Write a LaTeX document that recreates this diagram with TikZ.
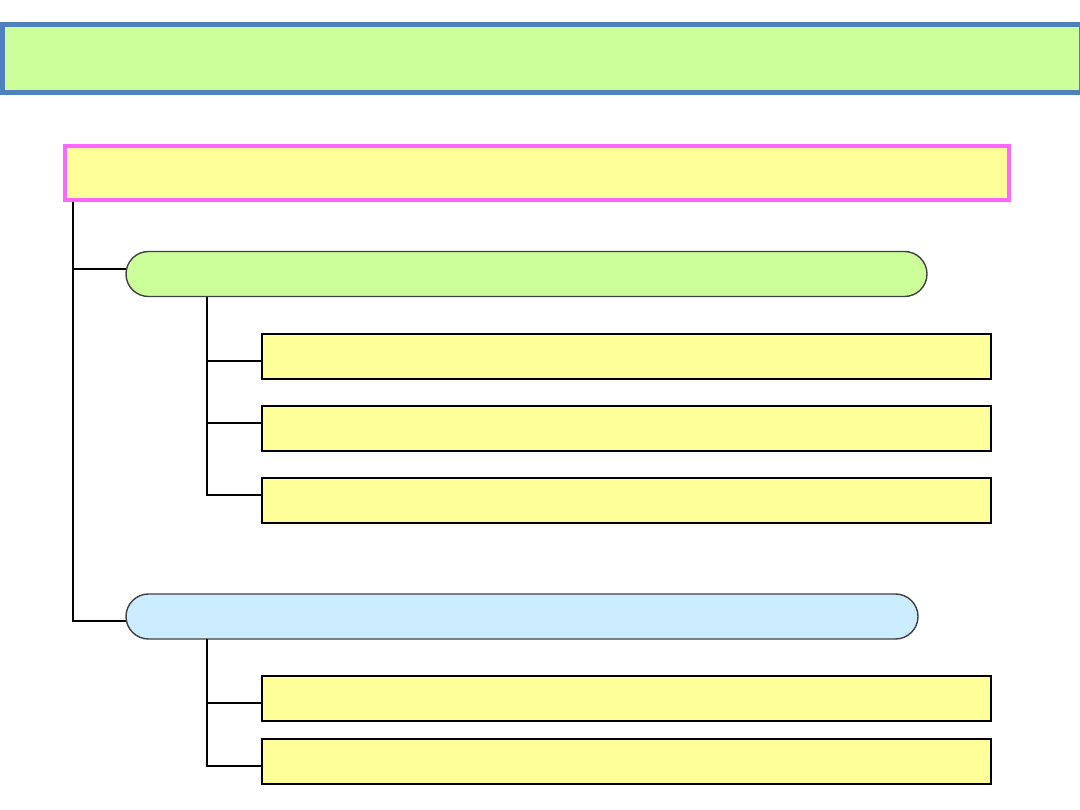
\documentclass[tikz,border=0pt]{standalone}
\usetikzlibrary{calc}
\definecolor{topblue}{HTML}{4F81BD}
\definecolor{lgreen}{HTML}{CCFF99}
\definecolor{pinkb}{HTML}{FF66FF}
\definecolor{lyellow}{HTML}{FFFF99}
\definecolor{lblue}{HTML}{CCECFF}
\definecolor{pillgray}{HTML}{404040}
\begin{document}
\begin{tikzpicture}[x=1pt,y=-1pt,
  conn/.style={black,line width=2.2pt},
  leafbox/.style={draw=black,line width=2.2pt,fill=lyellow,rectangle,inner sep=0pt,anchor=north west,minimum width=729pt,minimum height=45pt}]
\useasboundingbox (0,0) rectangle (1080,810);
% title banner
\node[draw=topblue,line width=5pt,fill=lgreen,rectangle,inner sep=0pt,anchor=north west,
  minimum width=1079pt,minimum height=67.5pt] (title) at (0,22.5) {};
% root box
\node[draw=pinkb,line width=4pt,fill=lyellow,rectangle,inner sep=0pt,anchor=north west,
  minimum width=944pt,minimum height=54pt] (root) at (63,144) {};
% pills
\path[fill=lgreen,draw=pillgray,line width=1.4pt,rounded corners=22.5pt]
  (126,251.5) rectangle (927,296.5);
\node[inner sep=0pt,minimum width=801pt,minimum height=45pt,anchor=north west] (p1) at (126,251.5) {};
\path[fill=lblue,draw=pillgray,line width=1.4pt,rounded corners=22.5pt]
  (126,594) rectangle (918,639);
\node[inner sep=0pt,minimum width=792pt,minimum height=45pt,anchor=north west] (p2) at (126,594) {};
% leaf boxes
\node[leafbox] (a1) at (261,333) {};
\node[leafbox] (a2) at (261,405) {};
\node[leafbox] (a3) at (261,477) {};
\node[leafbox] (b1) at (261,675) {};
\node[leafbox] (b2) at (261,737.5) {};
% connector attachment points
\coordinate (rootx) at (73,0);
\coordinate (p1x) at (207,0);
\coordinate (p1w) at ($(p1.west)+(0,-5)$);
\coordinate (p2w) at ($(p2.west)+(0,4)$);
\coordinate (a1w) at ($(a1.west)+(0,4.5)$);
\coordinate (a2w) at ($(a2.west)+(0,-5.5)$);
\coordinate (a3w) at ($(a3.west)+(0,-5.5)$);
\coordinate (b1w) at ($(b1.west)+(0,4)$);
\coordinate (b2w) at ($(b2.west)+(0,4.5)$);
% connectors
\draw[conn] (root.south -| rootx) |- (p2w);
\draw[conn] (p1w -| rootx) -- (p1w);
\draw[conn] (p1.south -| p1x) |- (a3w);
\draw[conn] (a1w -| p1x) -- (a1w);
\draw[conn] (a2w -| p1x) -- (a2w);
\draw[conn] (p2.south -| p1x) |- (b2w);
\draw[conn] (b1w -| p1x) -- (b1w);
\end{tikzpicture}
\end{document}
